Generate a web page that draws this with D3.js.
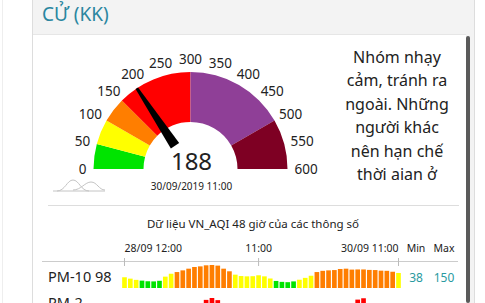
<!DOCTYPE html>
<html>
<head>
<meta charset="utf-8">
<script src="https://cdn.jsdelivr.net/npm/d3@7"></script>
<style>
  body { margin:0; background:#fff; }
  svg { display:block; font-family:"Noto Sans", sans-serif; }
</style>
</head>
<body>
<svg id="chart" width="485" height="303"></svg>
<script>
// gauge data
var gaugeBreaks = [0, 50, 100, 150, 300, 500, 600];
var gaugeColors = ["#00e400", "#ffff00", "#ff7e00", "#ff0000", "#8f3f97", "#7e0023"];
var gaugeTicks = [0, 50, 100, 150, 200, 250, 300, 350, 400, 450, 500, 550, 600];
var currentAqi = 188;
var currentTime = "30/09/2019 11:00";
var adviceLines = ["Nhóm nhạy", "cảm, tránh ra", "ngoài. Những", "người khác", "nên hạn chế", "thời aian ở"];

// 48 hour data
var pm10 = [70, 61, 53, 48, 44, 43, 47, 74, 93, 104, 115, 126, 137, 141, 148, 150,
            146, 126, 109, 87, 78, 76, 77, 83, 76, 62, 46, 40, 38, 43, 54, 66,
            80, 104, 112, 115, 117, 124, 126, 120, 121, 121, 118, 117, 113, 112, 106, 98];
var pm25 = [90, 85, 80, 76, 72, 70, 74, 88, 100, 110, 115, 118, 118, 120, 158, 172,
            156, 120, 110, 100, 95, 92, 92, 95, 90, 82, 70, 65, 62, 66, 75, 85,
            95, 105, 110, 115, 118, 120, 120, 122, 160, 170, 122, 120, 118, 115, 110, 108];
var tickIdx = [0, 23, 47];
var tickLabels = ["28/09 12:00", "11:00", "30/09 11:00"];
var rows = [{name: "PM-10", now: 98, min: 38, max: 150, values: pm10},
            {name: "PM-2.", now: null, min: null, max: null, values: pm25}];

var svg = d3.select("#chart");

// page frame
svg.append("rect").attr("x", 32).attr("y", 0).attr("width", 442).attr("height", 303).attr("fill", "#f3f3f3");
svg.append("line").attr("x1", 32.5).attr("x2", 32.5).attr("y1", 0).attr("y2", 303).attr("stroke", "#ddd");
svg.append("line").attr("x1", 474.5).attr("x2", 474.5).attr("y1", 0).attr("y2", 303).attr("stroke", "#ddd");
svg.append("line").attr("x1", 2.5).attr("x2", 2.5).attr("y1", 0).attr("y2", 303).attr("stroke", "#eee");
svg.append("rect").attr("x", 33).attr("y", 35).attr("width", 433).attr("height", 268).attr("fill", "#fff");
svg.append("line").attr("x1", 33).attr("x2", 466).attr("y1", 34.5).attr("y2", 34.5).attr("stroke", "#e6e6e6");
svg.append("rect").attr("x", 466).attr("y", 36).attr("width", 4).attr("height", 267).attr("rx", 2).attr("fill", "#5a5a5a");

svg.append("text").attr("x", 42).attr("y", 21)
  .attr("font-size", 19).attr("fill", "#2a86a0").text("CỬ (KK)");

// gauge
var cx = 190.5, cy = 169, rOut = 97, rIn = 47;
var angle = d3.scaleLinear().domain([0, 600]).range([-Math.PI / 2, Math.PI / 2]);
var arc = d3.arc().innerRadius(rIn).outerRadius(rOut);
var g = svg.append("g").attr("transform", "translate(" + cx + "," + cy + ")");

g.selectAll("path.seg")
  .data(gaugeColors)
  .join("path")
  .attr("class", "seg")
  .attr("d", function(c, i){ return arc({startAngle: angle(gaugeBreaks[i]), endAngle: angle(gaugeBreaks[i + 1])}); })
  .attr("fill", function(c){ return c; });

g.selectAll("text.tick")
  .data(gaugeTicks)
  .join("text")
  .attr("class", "tick")
  .attr("font-size", 13.5).attr("fill", "#222")
  .attr("text-anchor", "middle").attr("dominant-baseline", "central")
  .text(function(d){ return d; })
  .each(function(d){
    var a = angle(d), w = this.getComputedTextLength();
    var dx = Math.sin(a), dy = -Math.cos(a);
    d3.select(this)
      .attr("x", dx * 104 + dx * w / 2)
      .attr("y", dy * 104 + dy * 6);
  });

// needle
var na = angle(currentAqi);
var ux = Math.sin(na), uy = -Math.cos(na), px = -uy, py = ux;
var nb = 28, nt = 97, wb = 5, wt = 1.5;
g.append("path")
  .attr("d", "M" + (ux * nb + px * wb) + "," + (uy * nb + py * wb) +
             "L" + (ux * nt + px * wt) + "," + (uy * nt + py * wt) +
             "L" + (ux * nt - px * wt) + "," + (uy * nt - py * wt) +
             "L" + (ux * nb - px * wb) + "," + (uy * nb - py * wb) + "Z")
  .attr("fill", "#000");

g.append("text").attr("x", 1).attr("y", 1).attr("text-anchor", "middle")
  .attr("font-size", 24).attr("fill", "#222").text(currentAqi);
g.append("text").attr("x", 1).attr("y", 21).attr("text-anchor", "middle")
  .attr("font-size", 10).attr("fill", "#222").text(currentTime);

// little chart icon
var icon = svg.append("g").attr("transform", "translate(53,191)").attr("fill", "none").attr("stroke", "#c4c4c4").attr("stroke-width", 1);
icon.append("line").attr("x1", 0).attr("x2", 52).attr("y1", 0).attr("y2", 0);
icon.append("path").attr("d", "M4,0 C12,0 14,-11 20,-11 C26,-11 28,0 36,0");
icon.append("path").attr("d", "M20,-1 C28,-1 32,-9 38,-9 C44,-9 46,-1 52,-1");

// advice text
svg.append("text").attr("font-size", 16).attr("fill", "#222").attr("text-anchor", "middle")
  .selectAll("tspan")
  .data(adviceLines)
  .join("tspan")
  .attr("x", 397)
  .attr("y", function(d, i){ return 63 + i * 23.4; })
  .text(function(d){ return d; });

svg.append("line").attr("x1", 48).attr("x2", 459).attr("y1", 205.5).attr("y2", 205.5).attr("stroke", "#ddd");

// 48h section
svg.append("text").attr("x", 253).attr("y", 228).attr("text-anchor", "middle")
  .attr("font-size", 11.5).attr("fill", "#222").text("Dữ liệu VN_AQI 48 giờ của các thông số");

var x = d3.scaleBand().domain(d3.range(pm10.length)).range([121, 402]).padding(0.2);
var aqiColor = function(v){
  return v <= 50 ? gaugeColors[0] : v <= 100 ? gaugeColors[1] : v <= 150 ? gaugeColors[2]
       : v <= 200 ? gaugeColors[3] : v <= 300 ? gaugeColors[4] : gaugeColors[5];
};

svg.append("line").attr("x1", 42).attr("x2", 458).attr("y1", 261.5).attr("y2", 261.5).attr("stroke", "#ccc");
svg.selectAll("line.htick")
  .data(tickIdx)
  .join("line")
  .attr("class", "htick")
  .attr("x1", function(d){ return x(d) + x.bandwidth() / 2; })
  .attr("x2", function(d){ return x(d) + x.bandwidth() / 2; })
  .attr("y1", 258).attr("y2", 266).attr("stroke", "#bbb");
svg.selectAll("text.hlabel")
  .data(tickIdx)
  .join("text")
  .attr("class", "hlabel")
  .attr("x", function(d){ return x(d) + x.bandwidth() / 2; })
  .attr("y", 252)
  .attr("text-anchor", function(d, i){ return i == 0 ? "start" : i == tickIdx.length - 1 ? "end" : "middle"; })
  .attr("font-size", 10.5).attr("fill", "#222")
  .text(function(d, i){ return tickLabels[i]; });
svg.append("text").attr("x", 416).attr("y", 252).attr("text-anchor", "middle").attr("font-size", 10.5).attr("fill", "#222").text("Min");
svg.append("text").attr("x", 444).attr("y", 252).attr("text-anchor", "middle").attr("font-size", 10.5).attr("fill", "#222").text("Max");

rows.forEach(function(row, ri){
  var base = 288 + ri * 33;
  var scale = d3.scaleLinear().domain([0, d3.max(row.values)]).range([0, 23]);
  var rg = svg.append("g");
  rg.selectAll("rect")
    .data(row.values)
    .join("rect")
    .attr("x", function(d, i){ return x(i); })
    .attr("width", x.bandwidth())
    .attr("y", function(d){ return base - scale(d); })
    .attr("height", function(d){ return scale(d); })
    .attr("fill", function(d){ return aqiColor(d); });
  rg.append("text").attr("x", 48).attr("y", ri == 0 ? base - 6 : 307.5).attr("font-size", 14.5).attr("fill", "#222").text(row.name);
  if (row.now != null) {
    rg.append("text").attr("x", 95).attr("y", base - 6).attr("font-size", 14.5).attr("fill", "#222").text(row.now);
    rg.append("text").attr("x", 416).attr("y", base - 6).attr("text-anchor", "middle").attr("font-size", 12).attr("fill", "#2a9aa0").text(row.min);
    rg.append("text").attr("x", 444).attr("y", base - 6).attr("text-anchor", "middle").attr("font-size", 12).attr("fill", "#2a9aa0").text(row.max);
  }
});
</script>
</body>
</html>
